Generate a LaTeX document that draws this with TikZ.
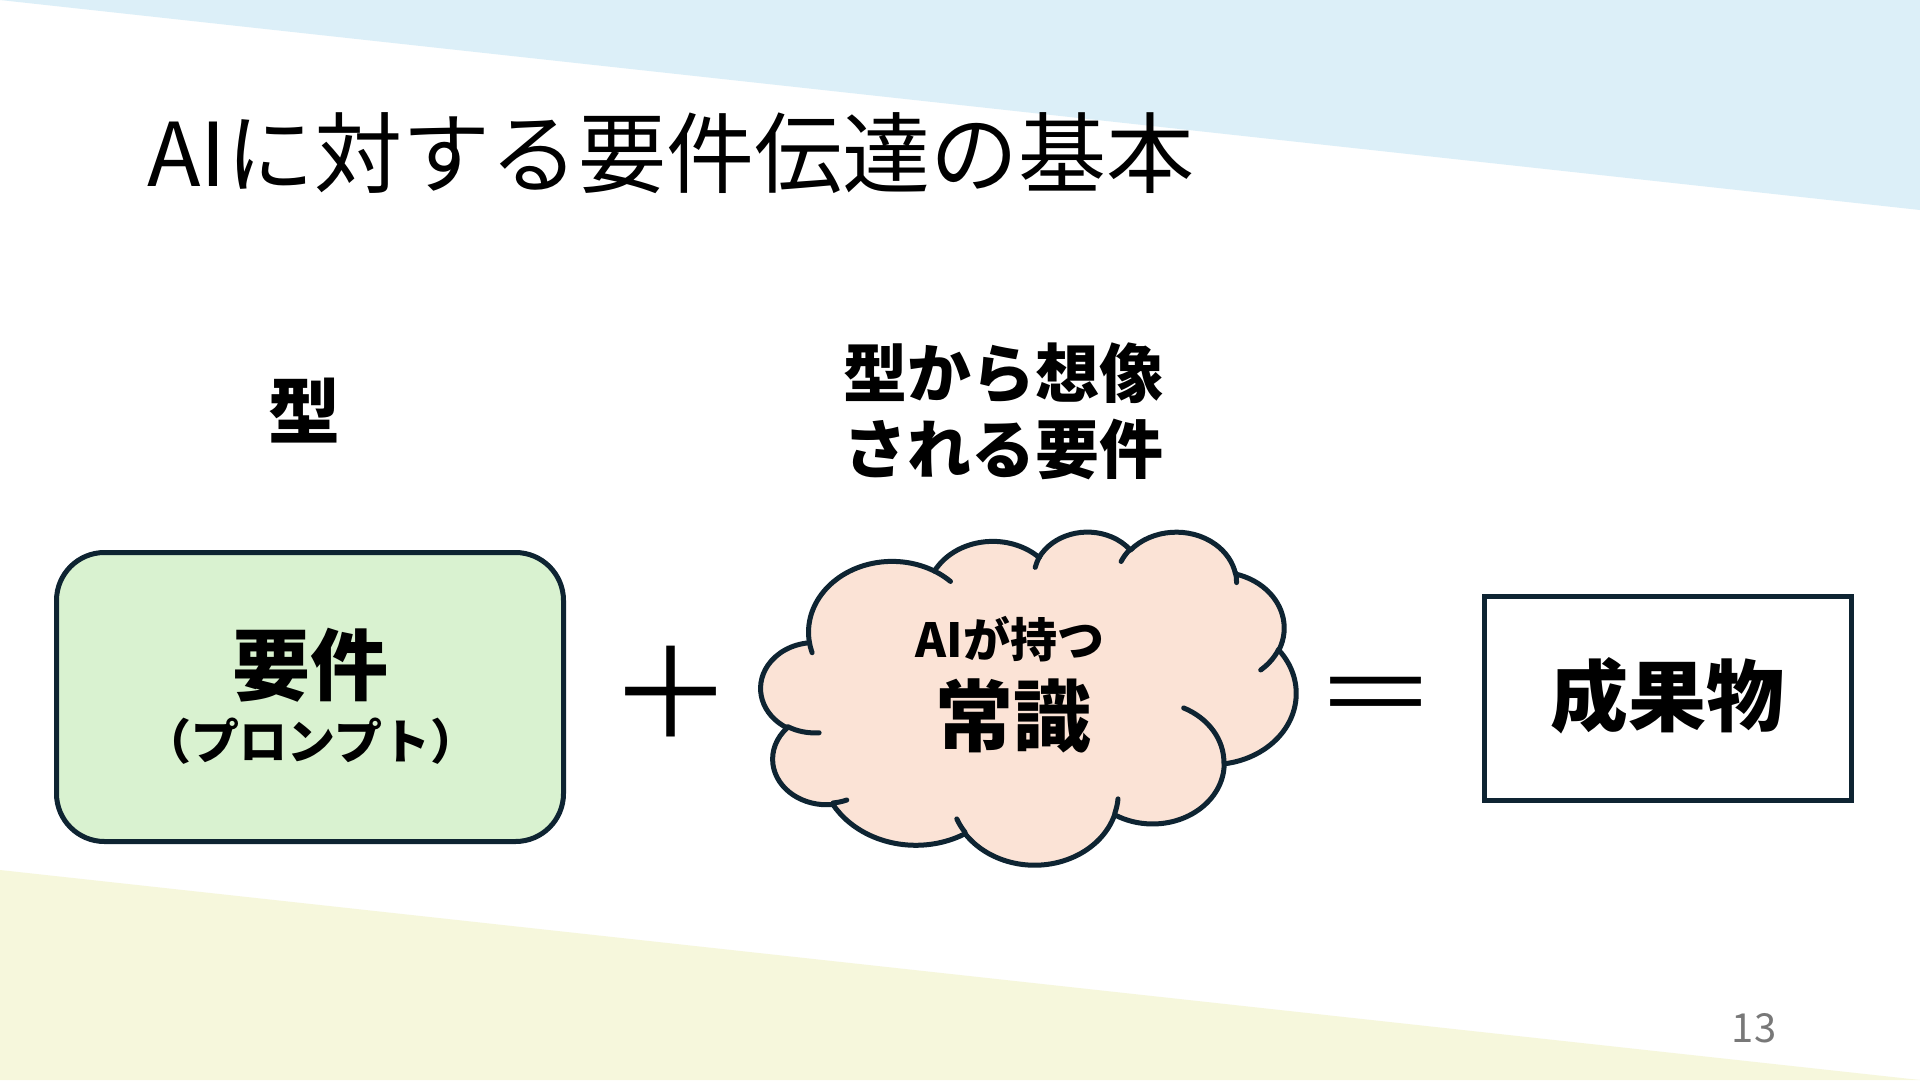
\documentclass[tikz,border=0pt]{standalone}
\usepackage{fontspec}
\setmainfont{Noto Sans CJK JP}
\definecolor{bgblue}{RGB}{220,239,248}
\definecolor{bgyellow}{RGB}{246,247,220}
\definecolor{boxgreen}{RGB}{217,242,208}
\definecolor{cloudfill}{RGB}{251,227,214}
\definecolor{navy}{RGB}{14,36,50}
\definecolor{pagegray}{RGB}{120,120,120}
\newcommand\cldcalc[4]{%
  \pgfmathsetmacro\cldtmpA{atan2((#1)*sin(#3),(#2)*cos(#3))}%
  \pgfmathsetmacro\cldtmpB{atan2((#1)*sin((#3)+(#4)),(#2)*cos((#3)+(#4)))}%
  \pgfmathsetmacro\cldtmpD{\cldtmpB-\cldtmpA}%
  \pgfmathsetmacro\cldtmpD{\cldtmpD+360*((#4)>0)*(\cldtmpD<0)-360*((#4)<0)*(\cldtmpD>0)}%
  \global\let\cldA\cldtmpA \global\let\cldD\cldtmpD}
\tikzset{
  outline/.style={draw=navy, line width=5pt},
  bigtext/.style={font=\bfseries\fontsize{78}{86}\selectfont, inner sep=0pt},
}
\begin{document}
\begin{tikzpicture}[x=1pt,y=-1pt]
\useasboundingbox (0,0) rectangle (1920,1080);
\fill[white] (0,0) rectangle (1920,1080);
\fill[bgblue] (0,0) -- (1920,0) -- (1920,210) -- cycle;
\fill[bgyellow] (0,870) -- (1920,1080) -- (0,1080) -- cycle;

% title
\node[anchor=west, inner sep=0pt, font=\fontsize{88}{96}\selectfont] (title) at (147,153) {AIに対する要件伝達の基本};

% labels
\node[inner sep=0pt, font=\bfseries\fontsize{72}{80}\selectfont] (kata) at (304,411) {型};
\node[inner sep=0pt, align=center, font=\bfseries\fontsize{64}{76}\selectfont] (souzou) at (1003,411) {型から想像\\される要件};

% requirement box
\node[outline, fill=boxgreen, rounded corners=48pt, minimum width=507pt, minimum height=289pt] (req) at (310,697) {};
\node[bigtext] (reqtext) at (310,665) {要件};
\node[inner sep=0pt, font=\bfseries\fontsize{48}{54}\selectfont] (prompt) at (311,741) {（プロンプト）};

% plus
\node[inner sep=0pt, font=\fontsize{125}{130}\selectfont] (plus) at (671,692) {＋};

% cloud
\begin{scope}[shift={(761,531)}, xscale=535/432, yscale=333/432]
\path[outline, fill=cloudfill, line join=round] (39.00,143.70)
  \pgfextra{\cldcalc{67.53}{91.90}{-190.48748}{123.78053}} arc[start angle=\cldA, delta angle=\cldD, x radius=67.53, y radius=91.90]
  \pgfextra{\cldcalc{53.33}{72.67}{-144.10238}{89.94523}} arc[start angle=\cldA, delta angle=\cldD, x radius=53.33, y radius=72.67]
  \pgfextra{\cldcalc{43.65}{59.45}{-145.80792}{99.72302}} arc[start angle=\cldA, delta angle=\cldD, x radius=43.65, y radius=59.45]
  \pgfextra{\cldcalc{48.57}{65.95}{-130.98607}{117.24173}} arc[start angle=\cldA, delta angle=\cldD, x radius=48.57, y radius=65.95]
  \pgfextra{\cldcalc{53.33}{72.73}{-78.70888}{109.02692}} arc[start angle=\cldA, delta angle=\cldD, x radius=53.33, y radius=72.73]
  \pgfextra{\cldcalc{67.75}{92.20}{-46.26725}{130.269}} arc[start angle=\cldA, delta angle=\cldD, x radius=67.75, y radius=92.20]
  \pgfextra{\cldcalc{57.85}{78.67}{0.62502}{114.03333}} arc[start angle=\cldA, delta angle=\cldD, x radius=57.85, y radius=78.67]
  \pgfextra{\cldcalc{67.52}{92.15}{22.4516}{115.17255}} arc[start angle=\cldA, delta angle=\cldD, x radius=67.52, y radius=92.15]
  \pgfextra{\cldcalc{77.20}{105.43}{66.24263}{75.71102}} arc[start angle=\cldA, delta angle=\cldD, x radius=77.20, y radius=105.43]
  \pgfextra{\cldcalc{43.60}{59.18}{-274.94208}{146.73557}} arc[start angle=\cldA, delta angle=\cldD, x radius=43.60, y radius=59.18]
  \pgfextra{\cldcalc{43.45}{59.45}{-246.8285}{152.51885}} arc[start angle=\cldA, delta angle=\cldD, x radius=43.45, y radius=59.45]
  -- cycle;
\path[outline, line cap=round]
  (46.93,261.77) \pgfextra{\cldcalc{43.45}{59.45}{86.742}{26.4295}} arc[start angle=\cldA, delta angle=\cldD, x radius=43.45, y radius=59.45]
  (69.28,348.99) \pgfextra{\cldcalc{43.60}{59.18}{73.6105}{11.4475}} arc[start angle=\cldA, delta angle=\cldD, x radius=43.60, y radius=59.18]
  (164.78,390.90) \pgfextra{\cldcalc{67.52}{92.15}{137.6242}{14.0811}} arc[start angle=\cldA, delta angle=\cldD, x radius=67.52, y radius=92.15]
  (288.27,347.51) \pgfextra{\cldcalc{67.52}{92.15}{6.4533}{15.9984}} arc[start angle=\cldA, delta angle=\cldD, x radius=67.52, y radius=92.15]
  (341.29,229.54) \pgfextra{\cldcalc{57.85}{78.67}{-70.2924}{70.9174}} arc[start angle=\cldA, delta angle=\cldD, x radius=57.85, y radius=78.67]
  (417.98,153.54) \pgfextra{\cldcalc{53.33}{72.73}{30.3180}{27.7515}} arc[start angle=\cldA, delta angle=\cldD, x radius=53.33, y radius=72.73]
  (383.24,54.26) \pgfextra{\cldcalc{48.57}{65.95}{-13.7443}{14.8589}} arc[start angle=\cldA, delta angle=\cldD, x radius=48.57, y radius=65.95]
  (290.78,39.52) \pgfextra{\cldcalc{48.57}{65.95}{-149.1815}{18.1954}} arc[start angle=\cldA, delta angle=\cldD, x radius=48.57, y radius=65.95]
  (221.41,47.20) \pgfextra{\cldcalc{43.65}{59.45}{-163.4943}{17.6864}} arc[start angle=\cldA, delta angle=\cldD, x radius=43.65, y radius=59.45]
  (140.00,51.92) \pgfextra{\cldcalc{67.53}{91.90}{-66.7070}{12.3194}} arc[start angle=\cldA, delta angle=\cldD, x radius=67.53, y radius=91.90]
  (41.27,157.89) \pgfextra{\cldcalc{67.53}{91.90}{157.6544}{11.8582}} arc[start angle=\cldA, delta angle=\cldD, x radius=67.53, y radius=91.90];
\end{scope}
\coordinate (cloud) at (1028,697);
\node[inner sep=0pt, font=\bfseries\fontsize{47}{52}\selectfont] (aihas) at (1010,639) {AIが持つ};
\node[bigtext] (joushiki) at (1013,716) {常識};

% equals
\node[inner sep=0pt, yscale=0.79, font=\fontsize{125}{130}\selectfont] (equals) at (1376,703) {＝};

% result box
\node[outline, fill=white, minimum width=367pt, minimum height=204pt] (result) at (1668,698.5) {};
\node[bigtext] (resulttext) at (1667,696) {成果物};

% page number
\node[inner sep=0pt, text=pagegray, font=\fontsize{40}{44}\selectfont] (page) at (1754,1028) {13};
\end{tikzpicture}
\end{document}
